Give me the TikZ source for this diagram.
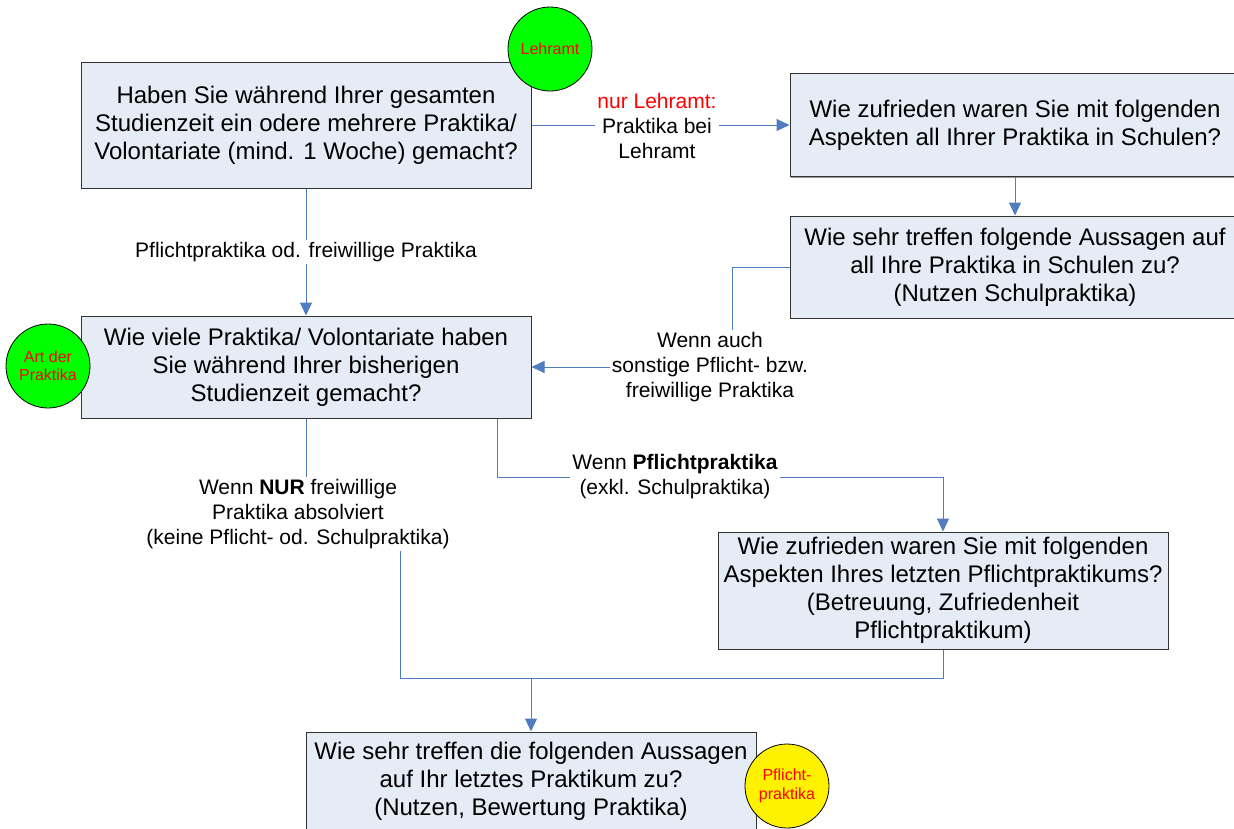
\documentclass[tikz,border=0pt]{standalone}
\usepackage{fontspec}
\setmainfont{Liberation Sans}
\usetikzlibrary{arrows.meta,shadows}
\definecolor{boxfill}{RGB}{230,236,246}
\definecolor{lineblue}{RGB}{79,125,192}
\definecolor{boxline}{RGB}{50,50,50}
\begin{document}
\begin{tikzpicture}[x=1pt,y=-1pt,
  qbox/.style={draw=boxline, line width=1pt, fill=boxfill, minimum width=450pt, align=center,
    font=\fontsize{24}{28}\selectfont, inner sep=0pt,
    drop shadow={shadow xshift=1.2pt, shadow yshift=-1.2pt, fill=black!40, opacity=1}},
  lbl/.style={fill=white, align=center, font=\fontsize{21}{25}\selectfont, inner sep=2pt},
  conn/.style={draw=lineblue, line width=1pt},
  arr/.style={conn, -{Triangle[length=13pt,width=12pt]}},
  marker/.style={circle, draw=black, line width=0.8pt, minimum size=84pt, inner sep=0pt,
    text=red, align=center, font=\fontsize{16}{18.5}\selectfont}]
\clip (0,0) rectangle (1234,828);
\fill[white] (0,0) rectangle (1234,828);

% boxes
\node[qbox, minimum height=126pt] (A) at (306,125)
  {Haben Sie während Ihrer gesamten\\Studienzeit ein odere mehrere Praktika/\\Volontariate (mind. 1 Woche) gemacht?};
\node[qbox, minimum height=103pt] (B) at (1015,125)
  {Wie zufrieden waren Sie mit folgenden\\Aspekten all Ihrer Praktika in Schulen?};
\node[qbox, minimum height=102pt] (C) at (1015,267)
  {Wie sehr treffen folgende Aussagen auf\\all Ihre Praktika in Schulen zu?\\(Nutzen Schulpraktika)};
\node[qbox, minimum height=102pt] (D) at (306,367)
  {Wie viele Praktika/ Volontariate haben\\Sie während Ihrer bisherigen\\Studienzeit gemacht?};
\node[qbox, minimum height=117pt] (E) at (943,590.5)
  {Wie zufrieden waren Sie mit folgenden\\Aspekten Ihres letzten Pflichtpraktikums?\\(Betreuung, Zufriedenheit\\Pflichtpraktikum)};
\node[qbox, minimum height=98pt] (F) at (531,781)
  {Wie sehr treffen die folgenden Aussagen\\auf Ihr letztes Praktikum zu?\\(Nutzen, Bewertung Praktika)};

% connectors
\draw[arr] (A.east) -- (B.west);
\node[lbl] (lAB) at (657,126) {\textcolor{red}{nur Lehramt:}\\Praktika bei\\Lehramt};

\draw[arr] (B.south) -- (C.north);

\coordinate (c1) at (732,267);
\draw[arr] (C.west) -- (c1) |- (D.east);
\node[lbl] (lCD) at (710,367) {Wenn auch\\sonstige Pflicht- bzw.\\freiwillige Praktika};

\draw[arr] (A.south) -- (D.north);
\node[lbl] (lAD) at (306,252) {Pflichtpraktika od. freiwillige Praktika};

\coordinate (d1) at ([xshift=191pt]D.south);
\coordinate (d2) at (497,477);
\draw[arr] (d1) -- (d2) -| (E.north);
\node[lbl] (lDE) at (675,477) {Wenn \textbf{Pflichtpraktika}\\(exkl. Schulpraktika)};

\coordinate (j) at (531,678);
\coordinate (f1) at (306,514);
\coordinate (f2) at (400,514);
\draw[conn] (D.south) -- (f1) -- (f2) |- (j);
\draw[conn] (E.south) |- (j);
\draw[arr] (j) -- (F.north);
\node[lbl] (lDF) at (298,514) {Wenn \textbf{NUR} freiwillige\\Praktika absolviert\\(keine Pflicht- od. Schulpraktika)};

% markers
\node[marker, fill=green] (m1) at (550,49) {Lehramt};
\node[marker, fill=green] (m2) at (48,366) {Art der\\Praktika};
\node[marker, fill=yellow] (m3) at (787,786) {Pflicht-\\praktika};
\end{tikzpicture}
\end{document}
